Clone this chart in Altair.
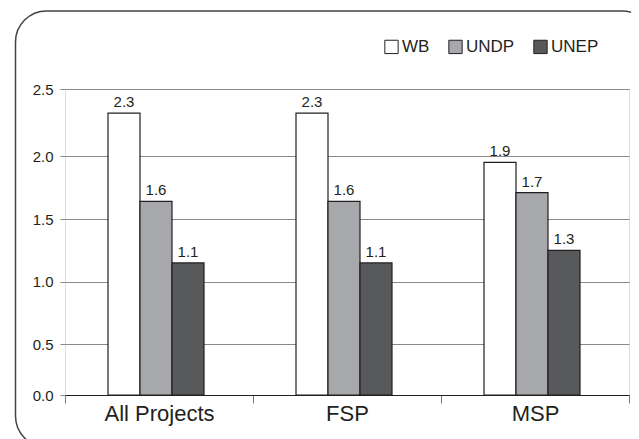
import altair as alt
import pandas as pd

groups = ["All Projects", "FSP", "MSP"]
agencies = ["WB", "UNDP", "UNEP"]
values = {
    "WB": [2.32, 2.32, 1.95],
    "UNDP": [1.64, 1.64, 1.71],
    "UNEP": [1.15, 1.15, 1.25],
}
labels = {
    "WB": ["2.3", "2.3", "1.9"],
    "UNDP": ["1.6", "1.6", "1.7"],
    "UNEP": ["1.1", "1.1", "1.3"],
}
colors = ["#ffffff", "#a7a8ab", "#58595b"]
y_ticks = [0.0, 0.5, 1.0, 1.5, 2.0, 2.5]

rows = []
for a in agencies:
    for i, g in enumerate(groups):
        rows.append({"group": g, "agency": a, "value": values[a][i], "label": labels[a][i]})
df = pd.DataFrame(rows)

FONT = "Liberation Sans"
INK = "#231f20"
W, H = 564, 306

x = alt.X("group:N", sort=groups,
          scale=alt.Scale(paddingInner=0, paddingOuter=0),
          axis=alt.Axis(title=None, labelAngle=0, labelFontSize=22, labelColor=INK,
                        labelFont=FONT, tickBand="extent", tickSize=8, tickColor="#777777",
                        domainColor=INK, labelPadding=0, grid=False))
xo = alt.XOffset("agency:N", sort=agencies,
                 scale=alt.Scale(paddingInner=0, paddingOuter=0, range=[43, 139]))
y = alt.Y("value:Q",
          scale=alt.Scale(domain=y_ticks, range=[306, 255.3, 192.7, 130, 67, 0],
                          zero=False, nice=False),
          axis=alt.Axis(title=None, values=y_ticks, format=".1f", labelFontSize=15,
                        labelFont=FONT, labelColor=INK, tickSize=5, tickColor="#8a8a8a",
                        gridColor="#8a8a8a", gridWidth=1, domain=False, labelPadding=7))

bars = alt.Chart(df).mark_bar(stroke=INK, strokeWidth=1.2).encode(
    x=x, xOffset=xo, y=y,
    color=alt.Color("agency:N", sort=agencies,
                    scale=alt.Scale(domain=agencies, range=colors),
                    legend=alt.Legend(title=None, orient="none", direction="horizontal",
                                      legendX=318, legendY=-51, symbolType="square",
                                      symbolSize=178, symbolStrokeColor=INK,
                                      symbolStrokeWidth=1, labelFontSize=17, labelFont=FONT,
                                      labelColor=INK, labelOffset=2, columnPadding=16,
                                      padding=0)),
)

text = alt.Chart(df).mark_text(baseline="bottom", dy=-3, fontSize=15, font=FONT, color=INK).encode(
    x=alt.X("group:N", sort=groups), xOffset=alt.XOffset("agency:N", sort=agencies),
    y="value:Q", text="label:N",
)

frame = alt.Chart(pd.DataFrame({"f": [0]})).mark_rect(
    fill=None, stroke="#444444", strokeWidth=1.5, cornerRadius=31
).encode(x=alt.value(-49.5), x2=alt.value(588), y=alt.value(-78), y2=alt.value(358))

chart = alt.layer(frame, bars, text).properties(
    width=W, height=H,
    autosize=alt.AutoSizeParams(type="none"),
    padding={"left": 57, "top": 81, "right": 2, "bottom": 44},
).configure_view(stroke=INK, strokeWidth=1).configure(background="white")

chart.save("out.html", embed_options={"renderer": "svg", "actions": False})
